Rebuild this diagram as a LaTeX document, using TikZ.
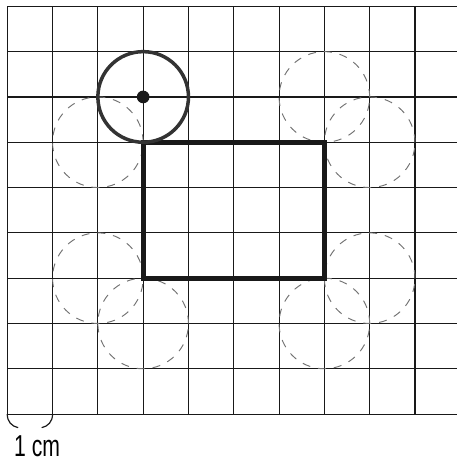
\documentclass[tikz,border=0pt]{standalone}
\usepackage{fontspec}
\setmainfont{Liberation Sans}
\begin{document}
\begin{tikzpicture}[
  gridline/.style={line width=0.7pt, black!90},
  rectline/.style={line width=3.2pt, black!90},
  wheel/.style={line width=2.2pt, black!80},
  ghost/.style={line width=0.6pt, black!55, dash pattern=on 5pt off 5pt},
  bracket/.style={line width=0.75pt, black!90}
]
\useasboundingbox (-0.16,-1.08) rectangle (9.93,9.14);
% grid
\foreach \x in {0,...,9} \draw[gridline] (\x,0) -- (\x,9);
\foreach \y in {0,...,9} \draw[gridline] (0,\y) -- (9.93,\y);
% ghost circles
\foreach \c in {(2,6),(7,7),(8,6),(2,3),(3,2),(8,3),(7,2)}
  \draw[ghost] \c circle[radius=1];
% rectangle
\draw[rectline, line join=miter] (3,3) rectangle (7,6);
% rolling circle
\draw[wheel] (3,7) circle[radius=1];
\fill[black!90] (3,7) circle[radius=0.14];
% 1 cm bracket
\coordinate (b0) at (0,0);
\coordinate (b1) at (1,0);
\draw[bracket] (b0) .. controls (0,-0.17) and (0.1,-0.27) .. (0.24,-0.3);
\draw[bracket] (b1) .. controls (1,-0.17) and (0.9,-0.27) .. (0.76,-0.3);
\node[font=\fontsize{19}{21}\selectfont, xscale=0.7, inner sep=0pt] (lbl) at (0.66,-0.7) {1 cm};
\end{tikzpicture}
\end{document}
